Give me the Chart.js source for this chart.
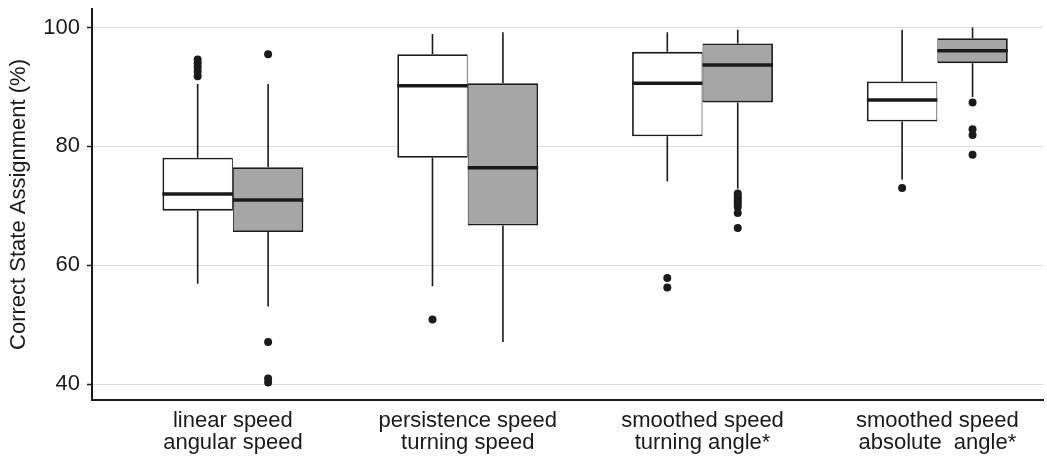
<!DOCTYPE html>
<html>
<head>
<meta charset="utf-8">
<script src="https://cdn.jsdelivr.net/npm/chart.js@4.4.0/dist/chart.umd.min.js"></script>
<style>
  html, body { margin: 0; padding: 0; background: #fff; }
  #wrap { width: 1047px; height: 459px; }
</style>
</head>
<body>
<div id="wrap"><canvas id="chart" width="1047" height="459"></canvas></div>
<script>
const categories = [
  ['linear speed', 'angular speed'],
  ['persistence speed', 'turning speed'],
  ['smoothed speed', 'turning angle*'],
  ['smoothed speed', 'absolute  angle*']
];
const yTicks = [40, 60, 80, 100];

// white boxes
const whiteLow = [56.9, 56.5, 74.1, 74.4];
const whiteQ1 = [69.2, 78.1, 81.7, 84.2];
const whiteMed = [72.0, 90.2, 90.6, 87.8];
const whiteQ3 = [78.1, 95.5, 95.9, 90.9];
const whiteHigh = [90.5, 98.9, 99.2, 99.6];
const whiteOut = [[94.6, 94.0, 93.3, 92.6, 91.8], [50.9], [57.9, 56.3], [73.0]];

// grey boxes
const greyLow = [53.1, 47.1, 72.9, 88.3];
const greyQ1 = [65.6, 66.7, 87.4, 94.0];
const greyMed = [71.0, 76.4, 93.7, 96.1];
const greyQ3 = [76.5, 90.6, 97.3, 98.2];
const greyHigh = [90.5, 99.2, 99.6, 100.0];
const greyOut = [[95.5, 47.1, 41.0, 40.3], [], [72.1, 71.6, 71.2, 70.8, 70.3, 69.8, 68.8, 66.3], [87.4, 82.9, 81.9, 78.6]];

const ink = '#1a1a1a';
const font = { family: "'Liberation Sans', Arial, sans-serif", size: 22, lineHeight: 1 };
const groupWidth = 0.6; // share of a category taken by the two boxes

const boxes = (q1, q3) => q1.map((v, i) => ({ x: i + 1, y: [v, q3[i]] }));
const outliers = (list, shift) => list.flatMap((vals, i) => vals.map(v => ({ x: i + 1 + shift, y: v })));

const whiskers = [
  { low: whiteLow, q1: whiteQ1, med: whiteMed, q3: whiteQ3, high: whiteHigh },
  { low: greyLow, q1: greyQ1, med: greyMed, q3: greyQ3, high: greyHigh }
];

const boxParts = {
  id: 'boxParts',
  beforeDatasetsDraw(chart) {
    const { ctx } = chart;
    const y = chart.scales.y;
    ctx.save();
    ctx.strokeStyle = ink;
    ctx.lineWidth = 1.6;
    whiskers.forEach((w, d) => {
      chart.getDatasetMeta(d).data.forEach((el, j) => {
        ctx.beginPath();
        ctx.moveTo(el.x, y.getPixelForValue(w.low[j]));
        ctx.lineTo(el.x, y.getPixelForValue(w.q1[j]));
        ctx.moveTo(el.x, y.getPixelForValue(w.q3[j]));
        ctx.lineTo(el.x, y.getPixelForValue(w.high[j]));
        ctx.stroke();
      });
    });
    ctx.restore();
  },
  afterDatasetsDraw(chart) {
    const { ctx } = chart;
    const y = chart.scales.y;
    ctx.save();
    ctx.strokeStyle = ink;
    ctx.lineWidth = 3.5;
    whiskers.forEach((w, d) => {
      chart.getDatasetMeta(d).data.forEach((el, j) => {
        const py = y.getPixelForValue(w.med[j]);
        ctx.beginPath();
        ctx.moveTo(el.x - el.width / 2, py);
        ctx.lineTo(el.x + el.width / 2, py);
        ctx.stroke();
      });
    });
    ctx.restore();
  }
};

new Chart(document.getElementById('chart'), {
  type: 'bar',
  data: {
    datasets: [
      {
        data: boxes(whiteQ1, whiteQ3),
        backgroundColor: '#ffffff',
        borderColor: ink,
        borderWidth: { top: 1.8, bottom: 1.8, left: 1.8, right: 1 },
        borderSkipped: false
      },
      {
        data: boxes(greyQ1, greyQ3),
        backgroundColor: '#a6a6a6',
        borderColor: ink,
        borderWidth: { top: 1.8, bottom: 1.8, left: 1, right: 1.8 },
        borderSkipped: false
      },
      {
        type: 'scatter',
        data: outliers(whiteOut, -groupWidth / 4),
        pointRadius: 4,
        backgroundColor: ink,
        borderColor: ink,
        borderWidth: 0
      },
      {
        type: 'scatter',
        data: outliers(greyOut, groupWidth / 4),
        pointRadius: 4,
        backgroundColor: ink,
        borderColor: ink,
        borderWidth: 0
      }
    ]
  },
  options: {
    responsive: false,
    animation: false,
    categoryPercentage: groupWidth,
    barPercentage: 1,
    layout: { padding: { top: 9, right: 0, bottom: 0, left: 0 } },
    plugins: {
      legend: { display: false },
      tooltip: { enabled: false }
    },
    scales: {
      x: {
        type: 'linear',
        min: 0.4,
        max: 4.45,
        offset: false,
        grid: { display: false, drawTicks: false, offset: false },
        border: { display: true, color: ink, width: 2 },
        afterBuildTicks: s => { s.ticks = categories.map((c, i) => ({ value: i + 1 })); },
        ticks: {
          callback: v => categories[v - 1],
          font: font,
          color: ink,
          padding: 10,
          maxRotation: 0,
          autoSkip: false
        },
        afterFit: s => { s.height = 59; s.paddingLeft = 0; s.paddingRight = 0; }
      },
      y: {
        min: 37.37,
        max: 103.1,
        beginAtZero: false,
        afterBuildTicks: s => { s.ticks = yTicks.map(v => ({ value: v })); },
        grid: { color: '#dcdcdc', lineWidth: 1, tickColor: ink, tickLength: 5, tickWidth: 1.5 },
        border: { color: ink, width: 2 },
        ticks: { font: font, color: ink, padding: 7 },
        title: {
          display: true,
          text: 'Correct State Assignment (%)',
          font: font,
          color: ink,
          padding: { top: 8, bottom: 0 }
        },
        afterFit: s => { s.width = 92; s.paddingTop = 0; s.paddingBottom = 0; }
      }
    }
  },
  plugins: [boxParts]
});
</script>
</body>
</html>
